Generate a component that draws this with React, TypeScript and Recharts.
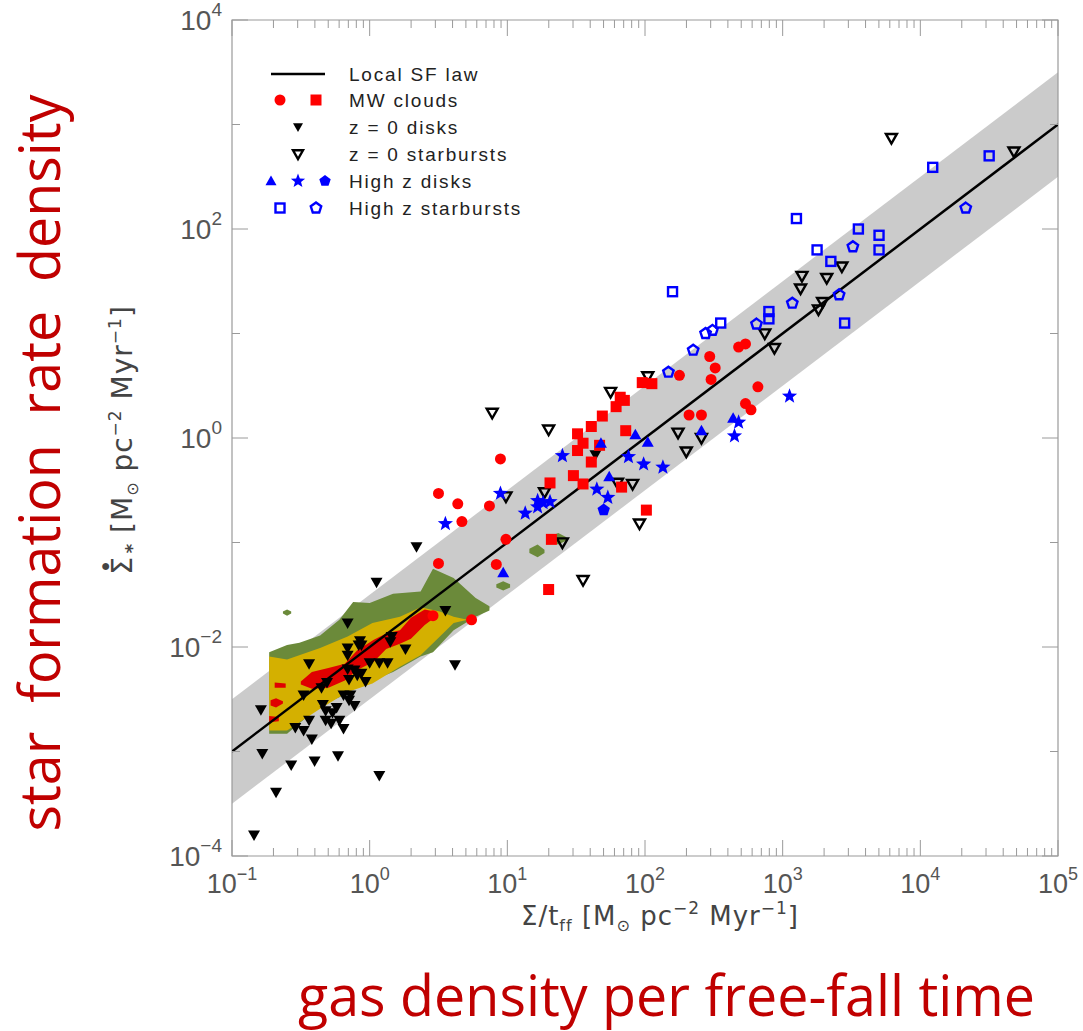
import React from "react";
import {
  ComposedChart,
  XAxis,
  YAxis,
  Scatter,
  Line,
  Area,
  ReferenceArea,
} from "recharts";

// values are [log10 Σ/tff, log10 Σ̇*]
type Pt = [number, number];
// contour edges: [log10 x, log10 lower, log10 upper]
type Edge = [number, number, number];

const mwCircles: Pt[] = [
  [0.95, -0.2], [0.5, -0.53], [0.64, -0.63], [0.87, -0.65], [0.67, -0.8],
  [0.99, -0.97], [0.5, -1.2], [0.92, -1.21], [0.46, -1.7], [0.74, -1.74],
  [2.25, 0.6], [2.47, 0.78], [2.51, 0.67], [2.48, 0.56], [2.68, 0.87],
  [2.73, 0.9], [2.82, 0.49], [2.32, 0.22], [2.41, 0.22], [2.73, 0.33],
  [2.77, 0.27],
];

const mwSquares: Pt[] = [
  [1.98, 0.53], [2.05, 0.52], [1.82, 0.39], [1.85, 0.36], [1.79, 0.3],
  [1.69, 0.21], [1.61, 0.11], [1.51, 0.04], [1.55, -0.05], [1.51, -0.12],
  [1.86, 0.07], [1.61, -0.23], [1.48, -0.36], [1.55, -0.44], [1.31, -0.43],
  [1.83, -0.47], [2.01, -0.69], [1.32, -0.97], [1.3, -1.45], [1.67, -0.07],
];

const localDisks: Pt[] = [
  [1.64, -0.16], [0.34, -1.04], [0.05, -1.38], [0.55, -1.65], [0.62, -2.17],
  [-0.16, -1.77], [-0.79, -2.6], [-0.78, -3.02], [-0.57, -3.13], [-0.4, -3.09],
  [-0.23, -3.04], [-0.68, -3.39], [0.07, -3.23], [-0.84, -3.8], [-0.42, -2.88],
  [-0.44, -2.16], [-0.48, -2.46], [-0.54, -2.77], [-0.48, -2.8], [-0.44, -2.7],
  [-0.35, -2.39], [-0.31, -2.34], [-0.34, -2.55], [-0.32, -2.61], [-0.27, -2.63],
  [-0.24, -2.58], [-0.32, -2.7], [-0.28, -2.73], [-0.22, -2.7], [-0.19, -2.78],
  [-0.19, -2.46], [-0.15, -2.51], [-0.14, -2.46], [-0.11, -2.56], [-0.16, -2.21],
  [-0.15, -2.31], [-0.16, -2.08], [-0.16, -2.01], [-0.11, -2.22], [-0.09, -2.27],
  [-0.06, -2.25], [-0.03, -2.33], [0.0, -2.15], [0.07, -2.15], [0.13, -2.15],
  [-0.07, -1.94], [-0.08, -1.98], [-0.06, -1.98], [0.15, -1.95], [0.26, -2.02],
  [0.16, -1.9],
];

const localStarbursts: Pt[] = [
  [3.79, 2.87], [4.68, 2.74], [3.14, 1.55], [3.32, 1.53], [3.43, 1.64],
  [3.13, 1.43], [3.29, 1.3], [3.26, 1.23], [2.87, 1.0], [2.94, 0.86],
  [2.02, 0.59], [1.75, 0.44], [0.89, 0.24], [1.3, 0.08], [0.99, -0.56],
  [1.27, -0.52], [1.8, -0.43], [1.91, -0.44], [1.96, -0.82], [1.4, -1.0],
  [1.55, -1.36], [2.24, 0.05], [2.41, 0.0], [2.3, -0.13],
];

const hzDiskTriangles: Pt[] = [
  [1.68, -0.05], [1.93, 0.03], [2.02, -0.04], [1.74, -0.37], [0.97, -1.29],
  [2.41, 0.07], [2.64, 0.19],
];

const hzDiskStars: Pt[] = [
  [1.4, -0.17], [0.95, -0.53], [1.22, -0.6], [1.22, -0.66], [1.26, -0.62],
  [1.31, -0.61], [1.13, -0.72], [0.55, -0.82], [1.88, -0.18], [1.99, -0.25],
  [2.13, -0.28], [1.65, -0.49], [1.73, -0.57], [2.68, 0.15], [2.65, 0.02],
  [3.05, 0.4],
];

const hzDiskPentagons: Pt[] = [[1.7, -0.69]];

const hzBurstSquares: Pt[] = [
  [4.09, 2.59], [4.5, 2.7], [3.1, 2.1], [3.55, 2.0], [3.7, 1.94], [3.7, 1.8],
  [3.25, 1.8], [3.35, 1.69], [2.2, 1.4], [2.9, 1.21], [2.9, 1.14], [2.55, 1.1],
  [3.45, 1.1],
];

const hzBurstPentagons: Pt[] = [
  [4.33, 2.2], [3.51, 1.83], [3.41, 1.37], [3.07, 1.29], [2.81, 1.09],
  [2.44, 1.0], [2.49, 1.03], [2.35, 0.84], [2.17, 0.63],
];

// local SF law line and its gray ±0.5 dex band (end points at the axis limits)
const lawLine = [
  { x: 0.1, y: 0.001 },
  { x: 100000, y: 1000 },
];
const lawBand = [
  { x: 0.1, band: [0.000316, 0.00316] },
  { x: 100000, band: [316, 3160] },
];

// simulation contours
const greenContour: Edge[] = [
  [-0.73, -2.83, -2.05], [-0.6, -2.83, -1.98], [-0.51, -2.73, -1.96],
  [-0.36, -2.56, -1.89], [-0.22, -2.48, -1.74], [-0.12, -2.4, -1.57],
  [0.0, -2.33, -1.58], [0.17, -2.24, -1.49], [0.37, -2.09, -1.47],
  [0.46, -2.05, -1.25], [0.61, -1.84, -1.34], [0.77, -1.71, -1.53],
  [0.87, -1.65, -1.61],
];
const greenBits: Edge[][] = [
  [[1.16, -1.1, -1.06], [1.22, -1.14, -1.02], [1.27, -1.1, -1.07]],
  [[1.3, -1.0, -0.95], [1.37, -1.02, -0.91], [1.43, -0.98, -0.95]],
  [[0.92, -1.43, -1.4], [0.97, -1.46, -1.37], [1.02, -1.43, -1.4]],
  [[-0.63, -1.68, -1.66], [-0.6, -1.7, -1.64], [-0.57, -1.68, -1.66]],
];
const yellowContour: Edge[] = [
  [-0.73, -2.8, -2.09], [-0.6, -2.8, -2.12], [-0.36, -2.59, -2.01],
  [-0.16, -2.43, -1.9], [0.02, -2.35, -1.77], [0.22, -2.19, -1.71],
  [0.37, -2.08, -1.62], [0.51, -1.9, -1.66], [0.61, -1.77, -1.71],
  [0.71, -1.74, -1.74],
];
const redContour: Edge[] = [
  [-0.5, -2.36, -2.33], [-0.42, -2.4, -2.24], [-0.3, -2.39, -2.2],
  [-0.18, -2.32, -2.16], [-0.09, -2.22, -2.03], [0.03, -2.14, -1.93],
  [0.12, -2.02, -1.87], [0.22, -1.97, -1.84], [0.3, -1.92, -1.72],
  [0.4, -1.79, -1.64], [0.47, -1.72, -1.66],
];
const redBits: Edge[][] = [
  [[-0.72, -2.56, -2.51], [-0.68, -2.58, -2.49], [-0.63, -2.54, -2.52]],
  [[-0.73, -2.72, -2.66], [-0.66, -2.71, -2.67]],
  [[-0.69, -2.39, -2.34], [-0.61, -2.39, -2.35]],
];

const xMajorTicks = [0.1, 1, 10, 100, 1000, 10000, 100000];
const xMinorSteps = [2, 3, 4, 5, 6, 7, 8, 9];
const yTicks = [1e-4, 1e-3, 1e-2, 1e-1, 1, 10, 100, 1000, 10000];

const toPoints = (rows: Pt[]) => rows.map(([lx, ly]) => ({ x: 10 ** lx, y: 10 ** ly }));
const toBand = (rows: Edge[]) =>
  rows.map(([lx, lo, hi]) => ({ x: 10 ** lx, band: [10 ** lo, 10 ** hi] }));

const xTicks = [
  ...xMajorTicks,
  ...xMajorTicks.slice(0, -1).flatMap((d) => xMinorSteps.map((m) => d * m)),
].sort((a, b) => a - b);

const W = 1083;
const H = 1031;
const PLOT = { left: 232, top: 20, right: 1058, bottom: 856 };
const AXIS = "#9a9a9a";
const LABEL = "#555";
const RED = "#ff0000";
const BLUE = "#0000ff";
const SLIDE_RED = "#c00000";
const NUM_FONT = "'Liberation Sans', Arial, sans-serif";
const TITLE_FONT = "'DejaVu Sans', sans-serif";

const minus = (s: string) => s.replace("-", "\u2212");

const XTick = (props: any) => {
  const { x, payload } = props;
  const e = Math.log10(payload.value);
  const major = Math.abs(e - Math.round(e)) < 1e-6;
  const len = major ? 16 : 8;
  return (
    <g>
      <line x1={x} x2={x} y1={PLOT.bottom} y2={PLOT.bottom - len} stroke={AXIS} />
      <line x1={x} x2={x} y1={PLOT.top} y2={PLOT.top + len} stroke={AXIS} />
      {major && (
        <text x={x} y={PLOT.bottom + 37} textAnchor="middle" fontSize={27} fill={LABEL} fontFamily={NUM_FONT}>
          10
          <tspan dy={-13} fontSize={18}>
            {minus(String(Math.round(e)))}
          </tspan>
        </text>
      )}
    </g>
  );
};

const YTick = (props: any) => {
  const { y, payload } = props;
  const e = Math.round(Math.log10(payload.value));
  const labeled = e % 2 === 0;
  const len = labeled ? 16 : 8;
  return (
    <g>
      <line x1={PLOT.left} x2={PLOT.left + len} y1={y} y2={y} stroke={AXIS} />
      <line x1={PLOT.right} x2={PLOT.right - len} y1={y} y2={y} stroke={AXIS} />
      {labeled && (
        <text x={PLOT.left - 10} y={y + 10} textAnchor="end" fontSize={28} fill={LABEL} fontFamily={NUM_FONT}>
          10
          <tspan dy={-14} fontSize={19}>
            {minus(String(e))}
          </tspan>
        </text>
      )}
    </g>
  );
};

const downTri = (cx: number, cy: number, s: number) =>
  `${cx - s},${cy - s * 0.75} ${cx + s},${cy - s * 0.75} ${cx},${cy + s}`;
const upTri = (cx: number, cy: number, s: number) =>
  `${cx - s},${cy + s * 0.75} ${cx + s},${cy + s * 0.75} ${cx},${cy - s}`;
const polyPts = (cx: number, cy: number, n: number, R: number, r?: number) => {
  const k = r ? n * 2 : n;
  const out: string[] = [];
  for (let i = 0; i < k; i++) {
    const a = -Math.PI / 2 + (i * 2 * Math.PI) / k;
    const rad = r && i % 2 ? r : R;
    out.push(`${(cx + rad * Math.cos(a)).toFixed(2)},${(cy + rad * Math.sin(a)).toFixed(2)}`);
  }
  return out.join(" ");
};

const RedCircle = ({ cx, cy }: any) => <circle cx={cx} cy={cy} r={5.5} fill={RED} />;
const RedSquare = ({ cx, cy }: any) => <rect x={cx - 5.5} y={cy - 5.5} width={11} height={11} fill={RED} />;
const BlackTri = ({ cx, cy }: any) => <polygon points={downTri(cx, cy, 6)} fill="#000" />;
const OpenTri = ({ cx, cy }: any) => (
  <polygon points={downTri(cx, cy, 5.5)} fill="none" stroke="#000" strokeWidth={2.4} />
);
const BlueTri = ({ cx, cy }: any) => <polygon points={upTri(cx, cy, 6)} fill={BLUE} />;
const BlueStar = ({ cx, cy }: any) => <polygon points={polyPts(cx, cy, 5, 8, 3.4)} fill={BLUE} />;
const BluePent = ({ cx, cy }: any) => <polygon points={polyPts(cx, cy, 5, 6.5)} fill={BLUE} />;
const OpenSquare = ({ cx, cy }: any) => (
  <rect x={cx - 4.5} y={cy - 4.5} width={9} height={9} fill="none" stroke={BLUE} strokeWidth={2.4} />
);
const OpenPent = ({ cx, cy }: any) => (
  <polygon points={polyPts(cx, cy, 5, 5.5)} fill="none" stroke={BLUE} strokeWidth={2.4} />
);

const legendRows = [
  "Local SF law",
  "MW clouds",
  "z = 0 disks",
  "z = 0 starbursts",
  "High z disks",
  "High z starbursts",
];
const legendY = [74, 100, 127, 154, 181, 208];

// unit part shared by both axis titles
const Units = () => (
  <>
    <tspan dy={-6}> [M</tspan>
    <tspan dy={6} fontSize={16}>⊙</tspan>
    <tspan dy={-6}> pc</tspan>
    <tspan dy={-11} fontSize={17}>−2</tspan>
    <tspan dy={11}> Myr</tspan>
    <tspan dy={-11} fontSize={17}>−1</tspan>
    <tspan dy={11}>]</tspan>
  </>
);

const Overlay = () => (
  <svg width={W} height={H} style={{ position: "absolute", left: 0, top: 0, pointerEvents: "none" }}>
    {/* legend */}
    <line x1={271} x2={325} y1={legendY[0]} y2={legendY[0]} stroke="#000" strokeWidth={2.5} />
    <RedCircle cx={280} cy={legendY[1]} />
    <RedSquare cx={316} cy={legendY[1]} />
    <polygon points={downTri(298, legendY[2], 5)} fill="#000" />
    <polygon points={downTri(298, legendY[3], 5)} fill="none" stroke="#000" strokeWidth={2.4} />
    <polygon points={upTri(271, legendY[4], 5.5)} fill={BLUE} />
    <polygon points={polyPts(298, legendY[4], 5, 7.5, 3.2)} fill={BLUE} />
    <polygon points={polyPts(325, legendY[4], 5, 6)} fill={BLUE} />
    <OpenSquare cx={280} cy={legendY[5]} />
    <OpenPent cx={316} cy={legendY[5]} />
    {legendRows.map((t, i) => (
      <text
        key={t}
        x={349}
        y={legendY[i] + 7}
        fontSize={19}
        fill="#222"
        letterSpacing={1.8}
        fontFamily={NUM_FONT}
        style={{ whiteSpace: "pre" }}
      >
        {t}
      </text>
    ))}

    {/* axis titles */}
    <text x={660} y={925} textAnchor="middle" fontSize={26} fill="#444" fontFamily={TITLE_FONT} letterSpacing={1}>
      Σ/t
      <tspan dy={6} fontSize={16}>ff</tspan>
      <Units />
    </text>
    <g transform="translate(132,440) rotate(-90)">
      <text x={0} y={0} textAnchor="middle" fontSize={28} fill="#444" fontFamily={TITLE_FONT} letterSpacing={1}>
        Σ
        <tspan dx={-14} dy={-24} fontSize={9}>●</tspan>
        <tspan dx={8} dy={30} fontSize={18} fontWeight="bold">*</tspan>
        <Units />
      </text>
    </g>

    {/* slide annotations */}
    <g transform="translate(60,463) rotate(-90)">
      <text
        x={0}
        y={0}
        textAnchor="middle"
        fontSize={56}
        fill={SLIDE_RED}
        fontFamily="'Open Sans', 'Noto Sans', sans-serif"
        textLength={737}
        lengthAdjust="spacingAndGlyphs"
        style={{ whiteSpace: "pre" }}
      >
        star  formation  rate  density
      </text>
    </g>
    <text
      x={298}
      y={1016}
      fontSize={56}
      fill={SLIDE_RED}
      fontFamily="'Open Sans', 'Noto Sans', sans-serif"
      textLength={737}
      lengthAdjust="spacingAndGlyphs"
    >
      gas density per free-fall time
    </text>
  </svg>
);

const noDot = { dot: false as const, activeDot: false as const };

export default function App() {
  return (
    <div style={{ position: "absolute", left: 0, top: 0, width: W, height: H, background: "#fff" }}>
      <ComposedChart width={W} height={H} margin={{ top: PLOT.top, right: W - PLOT.right, bottom: 0, left: 0 }}>
        <XAxis
          type="number"
          dataKey="x"
          scale="log"
          domain={[0.1, 100000]}
          allowDataOverflow
          ticks={xTicks}
          interval={0}
          tick={<XTick />}
          tickLine={false}
          axisLine={false}
          tickSize={0}
          height={H - PLOT.bottom}
        />
        <YAxis
          type="number"
          dataKey="y"
          scale="log"
          domain={[1e-4, 1e4]}
          allowDataOverflow
          ticks={yTicks}
          interval={0}
          tick={<YTick />}
          tickLine={false}
          axisLine={false}
          tickSize={0}
          width={PLOT.left}
        />
        <Area data={lawBand} dataKey="band" type="linear" stroke="none" fill="#cbcbcb" fillOpacity={1} isAnimationActive={false} {...noDot} />
        <Line data={lawLine} dataKey="y" type="linear" stroke="#000" strokeWidth={2.5} isAnimationActive={false} {...noDot} />
        <Area data={toBand(greenContour)} dataKey="band" type="linear" stroke="none" fill="#6b8a3a" fillOpacity={1} isAnimationActive={false} {...noDot} />
        {greenBits.map((b, i) => (
          <Area key={`g${i}`} data={toBand(b)} dataKey="band" type="linear" stroke="none" fill="#6b8a3a" fillOpacity={1} isAnimationActive={false} {...noDot} />
        ))}
        <Area data={toBand(yellowContour)} dataKey="band" type="linear" stroke="none" fill="#d4b000" fillOpacity={1} isAnimationActive={false} {...noDot} />
        <Area data={toBand(redContour)} dataKey="band" type="linear" stroke="none" fill="#e00000" fillOpacity={1} isAnimationActive={false} {...noDot} />
        {redBits.map((b, i) => (
          <Area key={`r${i}`} data={toBand(b)} dataKey="band" type="linear" stroke="none" fill="#e00000" fillOpacity={1} isAnimationActive={false} {...noDot} />
        ))}
        <Scatter data={toPoints(localDisks)} shape={BlackTri} isAnimationActive={false} />
        <Scatter data={toPoints(localStarbursts)} shape={OpenTri} isAnimationActive={false} />
        <Scatter data={toPoints(mwCircles)} shape={RedCircle} isAnimationActive={false} />
        <Scatter data={toPoints(mwSquares)} shape={RedSquare} isAnimationActive={false} />
        <Scatter data={toPoints(hzDiskStars)} shape={BlueStar} isAnimationActive={false} />
        <Scatter data={toPoints(hzDiskTriangles)} shape={BlueTri} isAnimationActive={false} />
        <Scatter data={toPoints(hzDiskPentagons)} shape={BluePent} isAnimationActive={false} />
        <Scatter data={toPoints(hzBurstSquares)} shape={OpenSquare} isAnimationActive={false} />
        <Scatter data={toPoints(hzBurstPentagons)} shape={OpenPent} isAnimationActive={false} />
        <ReferenceArea x1={0.1} x2={100000} y1={1e-4} y2={1e4} fill="none" stroke={AXIS} strokeWidth={1.2} ifOverflow="visible" />
      </ComposedChart>
      <Overlay />
    </div>
  );
}
